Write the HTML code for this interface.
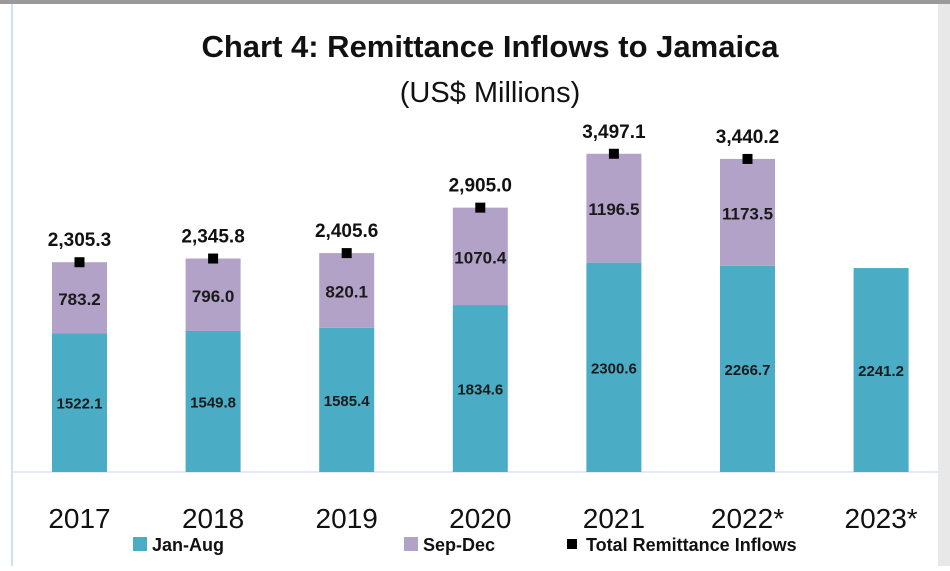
<!DOCTYPE html>
<html><head><meta charset="utf-8"><style>
body{margin:0;width:950px;height:566px;overflow:hidden;background:#fff;font-family:"Liberation Sans",sans-serif}
</style></head><body>
<svg id="c" width="950" height="566">
<rect x="0" y="0" width="950" height="4" fill="#9a9a9a"/>
<rect x="11" y="4" width="2" height="562" fill="#cfe0f0"/>
<rect x="938" y="4" width="12" height="562" fill="#e8e8e8"/>
<text x="490" y="57" text-anchor="middle" font-size="31" font-weight="bold" fill="#111">Chart 4: Remittance Inflows to Jamaica</text>
<text x="490" y="102" text-anchor="middle" font-size="29" fill="#111">(US$ Millions)</text>
<line x1="13" x2="938" y1="472" y2="472" stroke="#d6e4f0" stroke-width="1.5"/>
<g id="bars"></g>
<g>
<rect x="133" y="537" width="14" height="14" fill="#4bacc6"/>
<text x="152" y="551" font-size="18" font-weight="bold" fill="#111">Jan-Aug</text>
<rect x="404" y="537" width="14" height="14" fill="#b3a2c7"/>
<text x="423" y="551" font-size="18" font-weight="bold" fill="#111">Sep-Dec</text>
<rect x="567" y="539" width="10" height="10" fill="#000"/>
<text x="586" y="551" font-size="18" font-weight="bold" fill="#111">Total Remittance Inflows</text>
</g>
</svg>
<script>
const categories=["2017","2018","2019","2020","2021","2022*","2023*"];
const janAug=[1522.1,1549.8,1585.4,1834.6,2300.6,2266.7,2241.2];
const sepDec=[783.2,796.0,820.1,1070.4,1196.5,1173.5,null];
const totals=[2305.3,2345.8,2405.6,2905.0,3497.1,3440.2,null];
const totalLabels=["2,305.3","2,345.8","2,405.6","2,905.0","3,497.1","3,440.2",null];
const NS="http://www.w3.org/2000/svg";
const g=document.getElementById('bars');
const base=472,k=0.091,x0=79.5,step=133.6,bw=55;
const y=v=>base-v*k;
const xc=i=>x0+i*step;
function mk(t,a){const e=document.createElementNS(NS,t);for(const n in a)e.setAttribute(n,a[n]);g.appendChild(e);return e;}
categories.forEach((c,i)=>{
  const cx=xc(i);
  const r1=mk('rect',{x:cx-bw/2,y:y(janAug[i]),width:bw,height:janAug[i]*k,fill:'#4bacc6'});
  
  
  const t1=mk('text',{x:cx,y:(y(janAug[i])+base)/2+6,'text-anchor':'middle','font-size':'15','font-weight':'bold',fill:'#1a1a1a'});
  t1.textContent=janAug[i].toFixed(1);
  
  
  if(sepDec[i]!=null){
    const top=y(janAug[i]+sepDec[i]);
    const r2=mk('rect',{x:cx-bw/2,y:top,width:bw,height:sepDec[i]*k,fill:'#b3a2c7'});
    
    
    const t2=mk('text',{x:cx,y:(top+y(janAug[i]))/2+7,'text-anchor':'middle','font-size':'17','font-weight':'bold',fill:'#1a1a1a'});
    t2.textContent=sepDec[i].toFixed(1);
    
    
  }
  if(totals[i]!=null){
    const ty=y(totals[i]);
    const m=mk('rect',{x:cx-5,y:ty-5,width:10,height:10,fill:'#000'});
    
    
    const t3=mk('text',{x:cx,y:ty-16,'text-anchor':'middle','font-size':'19','font-weight':'bold',fill:'#111'});
    t3.textContent=totalLabels[i];
    
    
  }
  const tx=mk('text',{x:cx,y:528,'text-anchor':'middle','font-size':'28',fill:'#111'});
  tx.textContent=c;
  
  
});
</script>
</body></html>
